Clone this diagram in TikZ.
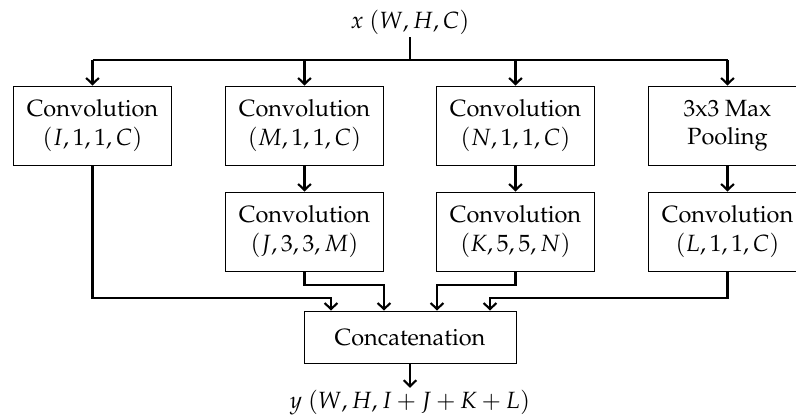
\documentclass[tikz,border=0pt]{standalone}
\usepackage[T1]{fontenc}
\usepackage{mathpazo}
\usetikzlibrary{calc,arrows.meta}

\tikzset{
  block/.style={draw, line width=0.4pt, minimum width=67.6pt, minimum height=33.6pt,
                inner sep=2pt, align=center, font=\normalsize},
  wide/.style={block, minimum width=90.2pt, minimum height=22.5pt},
  link/.style={line width=0.9pt},
  flow/.style={link, -{Straight Barb[length=2.6pt,width=5.4pt]}},
  label/.style={inner sep=1pt}
}

\begin{document}
\begin{tikzpicture}[x=0.4254pt, y=-0.4254pt]
  \useasboundingbox (0,0) rectangle (796,419);

  % input and output labels
  \node[label] (xin) at (410,22) {$x\ (W,H,C)$};
  \node[label] (yout) at (410,403) {$y\ (W,H,I+J+K+L)$};

  % first row of branches
  \node[block] (c1) at (92.5,125.5)  {Convolution\\$(I,1,1,C)$};
  \node[block] (c2) at (304.5,125.5) {Convolution\\$(M,1,1,C)$};
  \node[block] (c3) at (515.5,125.5) {Convolution\\$(N,1,1,C)$};
  \node[block] (c4) at (727.5,125.5) {3x3 Max\\Pooling};

  % second row of branches
  \node[block] (d2) at (304.5,231.5) {Convolution\\$(J,3,3,M)$};
  \node[block] (d3) at (515.5,231.5) {Convolution\\$(K,5,5,N)$};
  \node[block] (d4) at (727.5,231.5) {Convolution\\$(L,1,1,C)$};

  % merge
  \node[wide] (cat) at (410,337.5) {Concatenation};

  % splitting bus
  \coordinate (bus) at (410,60);
  \draw[link] (xin.south) -- (bus);
  \draw[link] (bus -| c1.north) -- (bus -| c4.north);
  \foreach \n in {c1,c2,c3,c4}
    \draw[flow] (bus -| \n.north) -- (\n.north);

  % inside the branches
  \draw[flow] (c2) -- (d2);
  \draw[flow] (c3) -- (d3);
  \draw[flow] (c4) -- (d4);

  % into the concatenation
  \coordinate (m1) at (331,298);
  \coordinate (m2) at (384,285);
  \coordinate (m3) at (437,285);
  \coordinate (m4) at (490,298);
  \draw[flow] (c1.south) |- (m1) -- (m1 |- cat.north);
  \draw[flow] (d2.south) |- (m2) -- (m2 |- cat.north);
  \draw[flow] (d3.south) |- (m3) -- (m3 |- cat.north);
  \draw[flow] (d4.south) |- (m4) -- (m4 |- cat.north);

  % output
  \draw[flow] (cat.south) -- (yout.north);
\end{tikzpicture}
\end{document}
